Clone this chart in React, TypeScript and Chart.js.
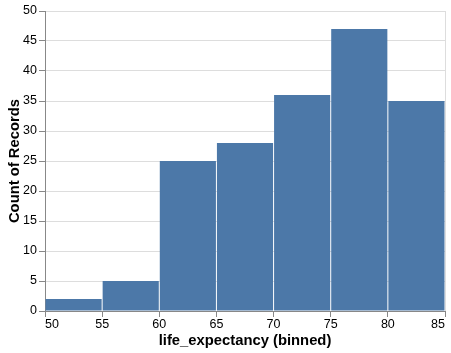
import React, { useEffect, useRef } from "react";
import { Chart, registerables } from "chart.js";

Chart.register(...registerables);

const binStarts = [50, 55, 60, 65, 70, 75, 80];
const binWidth = 5;
const counts = [2, 5, 25, 28, 36, 47, 35];
const xTitle = "life_expectancy (binned)";
const yTitle = "Count of Records";

const FONT = "'Liberation Sans', Arial, Helvetica, sans-serif";

export default function App() {
  const ref = useRef<HTMLCanvasElement>(null);
  useEffect(() => {
    if (!ref.current) return;
    const data = binStarts.map((s, i) => ({ x: s + binWidth / 2, y: counts[i] }));
    const chart = new Chart(ref.current, {
      type: "bar",
      data: {
        datasets: [
          {
            data,
            backgroundColor: "#4c78a8",
            borderWidth: 0,
            categoryPercentage: 1,
            barPercentage: 0.9825,
          },
        ],
      },
      options: {
        animation: false,
        responsive: false,
        maintainAspectRatio: false,
        layout: { padding: { top: 11, right: 6, left: 0, bottom: 0 } },
        plugins: { legend: { display: false }, tooltip: { enabled: false } },
        scales: {
          x: {
            type: "linear",
            min: binStarts[0],
            max: binStarts[binStarts.length - 1] + binWidth,
            offset: false,
            afterFit: (s: any) => {
              s.height = 42;
            },
            border: { color: "#888", width: 1 },
            grid: {
              offset: false,
              color: (c: any) => (c.tick && c.tick.value === 85 ? "#ddd" : "rgba(0,0,0,0)"),
              tickColor: "#888",
              tickLength: 6,
              lineWidth: 1,
            },
            ticks: {
              stepSize: 5,
              align: "inner",
              maxRotation: 0,
              autoSkip: false,
              padding: 0,
              color: "#000",
              font: { family: FONT, size: 12.5 },
            },
            title: {
              display: true,
              text: xTitle,
              color: "#000",
              font: { family: FONT, size: 14.8, weight: "bold" },
              padding: { top: 0, bottom: 3 },
            },
          },
          y: {
            type: "linear",
            min: 0,
            max: 50,
            afterFit: (s: any) => {
              s.width = 45;
            },
            border: { color: "#888", width: 1 },
            grid: { color: "#ddd", tickColor: "#888", tickLength: 6, lineWidth: 1 },
            ticks: {
              stepSize: 5,
              padding: 2,
              color: "#000",
              font: { family: FONT, size: 12.5 },
            },
            title: {
              display: true,
              text: yTitle,
              color: "#000",
              font: { family: FONT, size: 14.8, weight: "bold" },
              padding: { top: 6, bottom: 0 },
            },
          },
        },
      },
    });
    return () => chart.destroy();
  }, []);
  return (
    <div style={{ position: "absolute", left: 0, top: 0, width: 451, height: 353, background: "#fff" }}>
      <canvas ref={ref} width={451} height={353} style={{ width: 451, height: 353 }} />
    </div>
  );
}
